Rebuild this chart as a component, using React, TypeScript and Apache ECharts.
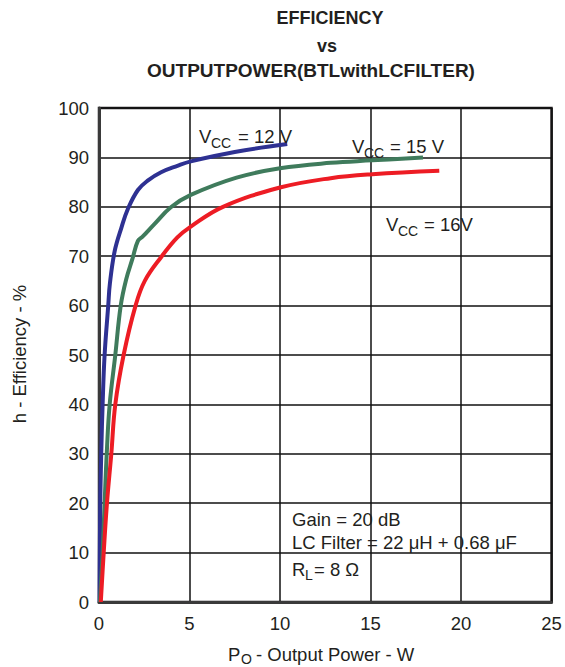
import React, { useEffect, useRef } from 'react';
import * as echarts from 'echarts';

const titleLines = ['EFFICIENCY', 'vs', 'OUTPUTPOWER(BTLwithLCFILTER)'];
const seriesNames = ['VCC = 12 V', 'VCC = 15 V', 'VCC = 16V'];
const seriesColors = ['#2E3192', '#3F7B5C', '#ED1C24'];

// Output power (W), efficiency (%)
const vcc12: number[][] = [
  [0.03, 0], [0.07, 20], [0.13, 31], [0.2, 40], [0.31, 50], [0.51, 60], [0.6, 64.4],
  [0.87, 71.1], [1.24, 75.8], [1.6, 79.6], [2.15, 83.4], [2.69, 85.3], [3.43, 87],
  [4.33, 88.3], [5.07, 89.2], [7.5, 91.1], [10.4, 92.7],
];
const vcc15: number[][] = [
  [0.05, 0], [0.2, 10], [0.31, 20], [0.44, 31], [0.59, 40], [0.9, 50], [1.2, 60], [1.5, 65.3],
  [1.85, 69.5], [2.15, 73.1], [2.42, 74], [3.06, 76.5], [3.97, 79.9], [5.07, 82.4], [7.6, 85.9],
  [10, 87.8], [12.8, 88.9], [15.1, 89.4], [17.9, 90],
];
const vcc16: number[][] = [
  [0.1, 0], [0.26, 10], [0.44, 20], [0.68, 30], [0.9, 40], [1.36, 50], [2.02, 60], [2.53, 65],
  [3.43, 69.8], [4.33, 73.8], [5.07, 76], [6.85, 80], [10, 83.9], [12.8, 85.8], [15.1, 86.6],
  [18.8, 87.3],
];

const xMin = 0, xMax = 25, xStep = 5;
const yMin = 0, yMax = 100, yStep = 10;

const noteLines = ['Gain = 20 dB', 'LC Filter = 22 \u03BCH + 0.68 \u03BCF'];

const FONT = 'Liberation Sans, Arial, Helvetica, sans-serif';

function txt(x: number, y: number, text: string, size: number, opts: any = {}) {
  return {
    type: 'text',
    x,
    y,
    rotation: opts.rotation || 0,
    z: 10,
    style: {
      text,
      font: `${opts.bold ? 'bold ' : ''}${size}px ${FONT}`,
      fill: '#231F20',
      align: opts.align || 'left',
      textAlign: opts.align || 'left',
      verticalAlign: 'middle',
      textVerticalAlign: 'middle',
    },
  };
}

export default function App() {
  const ref = useRef<HTMLDivElement>(null);
  useEffect(() => {
    if (!ref.current) return;
    const chart = echarts.init(ref.current, null, { renderer: 'svg' });
    const mk = (name: string, data: number[][], color: string) => ({
      type: 'line',
      name,
      data,
      showSymbol: false,
      smooth: 0.4,
      lineStyle: { color, width: 4 },
      z: 5,
    });
    chart.setOption({
      animation: false,
      backgroundColor: '#fff',
      grid: {
        left: 99, top: 108, right: 13.5, bottom: 65,
        show: true, borderColor: '#231F20', borderWidth: 2.5,
      },
      xAxis: {
        type: 'value', min: xMin, max: xMax, interval: xStep,
        axisLine: { show: true, lineStyle: { color: '#3a3a3a', width: 3 } },
        axisTick: { show: false },
        axisLabel: { color: '#231F20', fontSize: 18.5, fontFamily: FONT, margin: 12 },
        splitLine: { show: true, lineStyle: { color: '#111', width: 1.5 } },
      },
      yAxis: {
        type: 'value', min: yMin, max: yMax, interval: yStep,
        axisLine: { show: true, lineStyle: { color: '#3a3a3a', width: 3 } },
        axisTick: { show: false },
        axisLabel: { color: '#231F20', fontSize: 18.5, fontFamily: FONT, margin: 10 },
        splitLine: { show: true, lineStyle: { color: '#111', width: 1.5 } },
      },
      series: [
        mk(seriesNames[0], vcc12, seriesColors[0]),
        mk(seriesNames[1], vcc15, seriesColors[1]),
        mk(seriesNames[2], vcc16, seriesColors[2]),
      ],
      graphic: [
        txt(330, 17.5, titleLines[0], 18, { bold: true, align: 'center' }),
        txt(327, 45.5, titleLines[1], 18, { bold: true, align: 'center' }),
        txt(311, 70, titleLines[2], 19, { bold: true, align: 'center' }),
        // Vcc labels
        txt(199, 136, 'V', 18.5),
        txt(211, 143, 'CC', 14),
        txt(238, 136, '= 12 V', 18.5),
        txt(352, 146, 'V', 18.5),
        txt(364, 153, 'CC', 14),
        txt(390, 146, '= 15 V', 18.5),
        txt(386, 224, 'V', 18.5),
        txt(398, 231, 'CC', 14),
        txt(424, 224, '= 16V', 18.5),
        // notes
        txt(292, 519.5, noteLines[0], 18.5),
        txt(292, 542.5, noteLines[1], 18.5),
        txt(292, 569, 'R', 18.5),
        txt(305, 575, 'L', 14),
        txt(314, 569, '= 8 \u03A9', 18.5),
        // axis names
        txt(228, 654, 'P', 18.5),
        txt(241, 659, 'O', 14),
        txt(256, 654, '- Output Power - W', 18.5),
        txt(19, 354, 'h - Efficiency - %', 18.5, { align: 'center', rotation: Math.PI / 2 }),
      ],
    });
    return () => chart.dispose();
  }, []);
  return (
    <div
      ref={ref}
      style={{ position: 'absolute', left: 0, top: 0, width: 565, height: 667 }}
    />
  );
}
